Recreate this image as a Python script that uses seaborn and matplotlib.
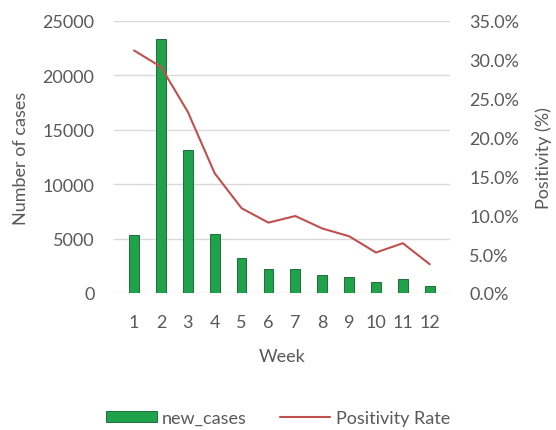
import numpy as np
import pandas as pd
import seaborn as sns
import matplotlib.pyplot as plt
from matplotlib.ticker import PercentFormatter

# weekly data
weeks = [1, 2, 3, 4, 5, 6, 7, 8, 9, 10, 11, 12]
new_cases = [5300, 23300, 13100, 5400, 3200, 2170, 2230, 1620, 1430, 1010, 1310, 640]
positivity = [31.2, 29.1, 23.3, 15.4, 10.9, 9.05, 9.9, 8.3, 7.3, 5.2, 6.4, 3.7]

df = pd.DataFrame({'week': weeks, 'new_cases': new_cases, 'positivity': positivity})

sns.set_style('white')
plt.rcParams['font.family'] = ['Lato', 'DejaVu Sans']
grey = '#595959'
fs = 13

fig = plt.figure(figsize=(5.56, 4.31), dpi=100)
ax = fig.add_axes([0.205, 0.318, 0.604, 0.631])

# bars for new cases
sns.barplot(data=df, x='week', y='new_cases', color='#20a24a', width=0.36,
            edgecolor='#0d5e27', linewidth=0.6, saturation=1, ax=ax, label='new_cases', zorder=2)
ax.set_ylim(0, 25000)
ax.set_yticks(np.arange(0, 25001, 5000))
ax.yaxis.grid(True, color='#d9d9d9', linewidth=1)
ax.set_axisbelow(True)
ax.set_xlabel('Week', fontsize=fs, color=grey, labelpad=13)
ax.set_ylabel('Number of cases', fontsize=fs, color=grey, labelpad=10)
ax.tick_params(axis='x', colors=grey, labelsize=fs, length=0, pad=15)
ax.tick_params(axis='y', colors=grey, labelsize=fs, length=0, pad=14)
for s in ax.spines.values():
    s.set_visible(False)

# positivity rate on second axis
ax2 = ax.twinx()
sns.lineplot(x=np.arange(len(weeks)), y=df['positivity'], color='#c0504d', linewidth=1.5,
             ax=ax2, label='Positivity Rate', legend=False)
ax2.set_ylim(0, 35)
ax2.set_yticks(np.arange(0, 35.1, 5))
ax2.yaxis.set_major_formatter(PercentFormatter(decimals=1))
ax2.set_ylabel('Positivity (%)', fontsize=fs, color=grey, labelpad=12)
ax2.tick_params(axis='y', colors=grey, labelsize=fs, length=0, pad=14)
for s in ax2.spines.values():
    s.set_visible(False)

h1, l1 = ax.get_legend_handles_labels()
h2, l2 = ax2.get_legend_handles_labels()
if ax.get_legend() is not None:
    ax.get_legend().remove()
fig.legend(h1 + h2, l1 + l2, loc='center', bbox_to_anchor=(0.5, 0.028), ncol=2,
           frameon=False, fontsize=fs, labelcolor=grey, handlelength=2.8, handleheight=0.5,
           handletextpad=0.3, columnspacing=1.8)

plt.savefig('out.png', dpi=100)
plt.close()
